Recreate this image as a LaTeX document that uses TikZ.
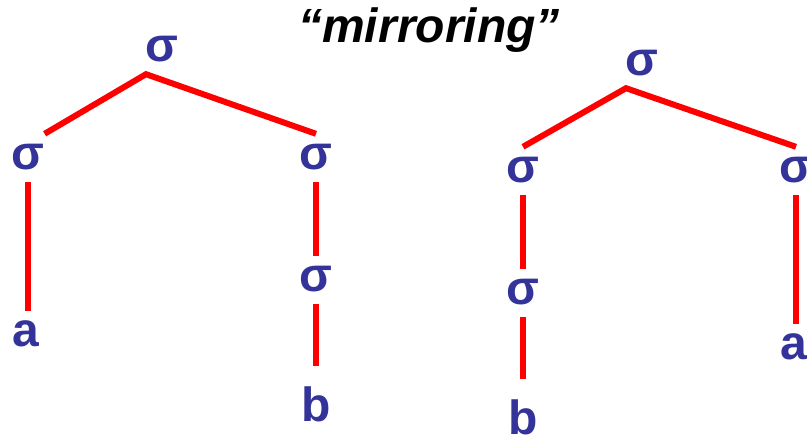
\documentclass[tikz,border=0pt]{standalone}
\usepackage{fontspec}
\setsansfont{Liberation Sans}
\definecolor{sigblue}{HTML}{333399}
\tikzset{
  lab/.style={text=sigblue, inner sep=0pt, text height=36pt, text depth=12pt,
    font=\sffamily\bfseries\fontsize{48}{58}\selectfont},
  branch/.style={draw=red, line width=6pt},
  titletext/.style={font=\sffamily\bfseries\itshape\fontsize{48}{56}\selectfont, anchor=base},
}
\begin{document}
\begin{tikzpicture}[x=1pt, y=-1pt]
  \useasboundingbox (0,0) rectangle (807,435);
  \node[titletext] (title) at (429,43) {“mirroring”};
  % left tree
  \node[lab] (top1) at (162,50) {σ};
  \node[lab] (l1) at (28,158) {σ};
  \node[lab] (r1) at (316,158) {σ};
  \node[lab] (a1) at (26,335) {a};
  \node[lab] (rr1) at (316,280) {σ};
  \node[lab] (b1) at (316,410) {b};
  \coordinate (apex1) at ([xshift=-16pt]top1.south);
  \draw[branch] (l1.north east) -- (apex1) -- (r1.north);
  \draw[branch] (l1) -- (l1 |- a1.north);
  \draw[branch] (r1) -- (rr1);
  \draw[branch, shorten >=20pt] (rr1) -- (b1);
  % right tree
  \node[lab] (top2) at (642,64) {σ};
  \node[lab] (l2) at (523,171) {σ};
  \node[lab] (r2) at (796,171) {σ};
  \node[lab] (ll2) at (523,293) {σ};
  \node[lab] (b2) at (523,423) {b};
  \node[lab] (a2) at (794,348) {a};
  \coordinate (apex2) at ([xshift=-16pt]top2.south);
  \draw[branch] (l2.north) -- (apex2) -- (r2.north);
  \draw[branch] (l2) -- (ll2);
  \draw[branch, shorten >=20pt] (ll2) -- (b2);
  \draw[branch] (r2) -- (r2 |- a2.north);
\end{tikzpicture}
\end{document}
